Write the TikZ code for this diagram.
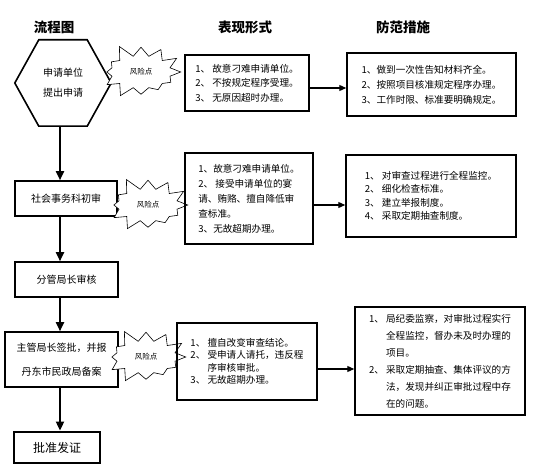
\documentclass[tikz,border=0pt]{standalone}
\usepackage{fontspec}
\setmainfont{Noto Sans CJK SC}
\usetikzlibrary{shapes.symbols,arrows.meta}
\begin{document}
\begin{tikzpicture}[x=1pt,y=-1pt,
 box/.style={draw, line width=1.5pt, align=left, inner sep=0pt},
 flow/.style={draw, line width=1.6pt, align=center, inner sep=0pt, font=\fontsize{10}{24}\selectfont},
 risk/.style={starburst, starburst points=12, starburst point height=14pt, random starburst=5, draw, line width=0.6pt, fill=white, font=\fontsize{7.5}{9}\selectfont, inner xsep=10pt, inner ysep=8pt},
 title/.style={font=\fontsize{13.5}{16}\bfseries\selectfont},
 main/.style={line width=1.8pt, -{Triangle[length=9pt,width=8pt]}},
 side/.style={line width=1.2pt, -{Triangle[length=7pt,width=6pt]}}]
\useasboundingbox[fill=white] (0,0) rectangle (534,473);

% titles
\node[title] (t1) at (54,27) {流程图};
\node[title] (t2) at (245,27) {表现形式};
\node[title] (t3) at (403,27) {防范措施};

% left column
\node[minimum width=96pt, minimum height=86pt, inner sep=0pt, align=center, font=\fontsize{10}{20}\selectfont] (hex) at (63,83) {申请单位\\提出申请};
\draw[line width=1.6pt] (hex.west) -- ([xshift=24pt]hex.north west) -- ([xshift=-24pt]hex.north east) -- (hex.east) -- ([xshift=-24pt]hex.south east) -- ([xshift=24pt]hex.south west) -- cycle;
\node[flow, minimum width=102pt, minimum height=35pt] (boxA) at (66,198.5) {社会事务科初审};
\node[flow, minimum width=103pt, minimum height=35pt] (boxB) at (66.5,279.5) {分管局长审核};
\node[flow, minimum width=113pt, minimum height=55pt] (boxC) at (61.5,359.5) {主管局长签批，并报\\丹东市民政局备案};
\node[flow, line width=2.8pt, minimum width=86pt, minimum height=31pt, font=\fontsize{12}{14}\selectfont] (boxD) at (57,447.5) {批准发证};

\coordinate (ax) at (60,0);
\draw[main] (hex.south -| ax) -- (boxA.north -| ax);
\draw[main] (boxA.south -| ax) -- (boxB.north -| ax);
\draw[main] (boxB.south -| ax) -- (boxC.north -| ax);
\draw[main] (boxC.south -| ax) -- (boxD.north -| ax);

% risk points
\node[risk] (r1) at (141,72) {风险点};
\node[risk] (r2) at (148,205) {风险点};
\node[risk] (r3) at (146,357) {风险点};

% middle column
\node[box, minimum width=124pt, minimum height=56pt, font=\fontsize{9.6}{14.5}\selectfont] (b1) at (247,83)
 {1、 故意刁难申请单位。\\2、 不按规定程序受理。\\3、 无原因超时办理。};
\node[box, minimum width=128pt, minimum height=91pt, font=\fontsize{9.6}{15}\selectfont] (b3) at (249,198.5)
 {1、故意刁难申请单位。\\2、 接受申请单位的宴\\请、贿赂、擅自降低审\\查标准。\\3、无故超期办理。};
\node[box, minimum width=140pt, minimum height=77pt, font=\fontsize{9.6}{12.5}\selectfont] (b5) at (247,361.5)
 {1、 擅自改变审查结论。\\2、 受申请人请托，违反程\\\phantom{2、 }序审核审批。\\3、 无故超期办理。};

% right column
\node[box, minimum width=169pt, minimum height=63pt, font=\fontsize{9.6}{15}\selectfont] (b2) at (431.5,84.5)
 {1、做到一次性告知材料齐全。\\2、按照项目核准规定程序办理。\\3、工作时限、标准要明确规定。};
\node[box, minimum width=170pt, minimum height=82pt, font=\fontsize{9.6}{13.5}\selectfont] (b4) at (431,196)
 {1、 对审查过程进行全程监控。\\2、 细化检查标准。\\3、 建立举报制度。\\4、 采取定期抽查制度。};
\node[box, minimum width=170pt, minimum height=108pt, font=\fontsize{9.6}{17}\selectfont] (b6) at (440,361)
 {1、 局纪委监察，对审批过程实行\\\phantom{1、 }全程监控，督办未及时办理的\\\phantom{1、 }项目。\\2、 采取定期抽查、集体评议的方\\\phantom{2、 }法，发现并纠正审批过程中存\\\phantom{2、 }在的问题。};

\draw[side] (b1.east |- 0,88) -- (b2.west |- 0,88);
\draw[side] (b3.east |- 0,205) -- (b4.west |- 0,205);
\draw[side] (b5.east |- 0,369) -- (b6.west |- 0,369);
\end{tikzpicture}
\end{document}
